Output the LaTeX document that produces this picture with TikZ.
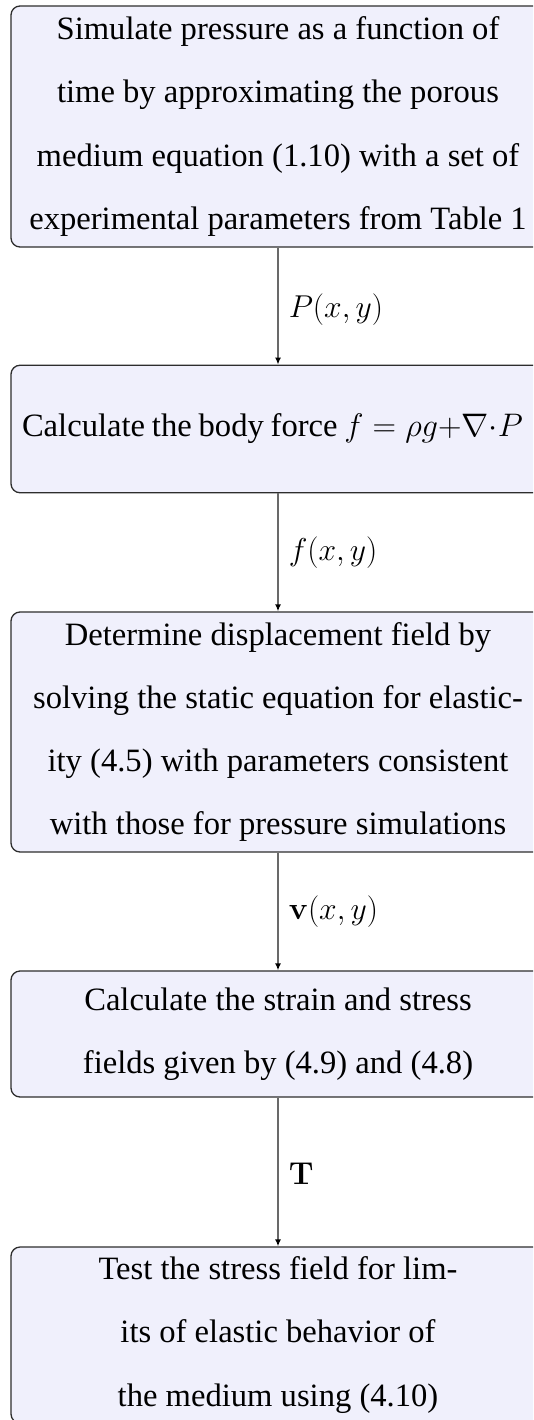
\RequirePackage{fix-cm}
\documentclass[tikz,border=0pt]{standalone}
\usepackage[no-math]{fontspec}
\setmainfont{Liberation Serif}
\usetikzlibrary{arrows.meta}
\definecolor{boxfill}{RGB}{240,240,252}
\definecolor{boxdraw}{RGB}{45,45,45}
\definecolor{arrowgray}{RGB}{105,105,105}
\begin{document}
\begin{tikzpicture}[x=1pt,y=-1pt,
  stepbox/.style={draw=boxdraw, line width=1.3pt, fill=boxfill, rounded corners=9pt,
    minimum width=534pt, inner sep=0pt, align=center,
    font=\fontsize{32.6}{63.2}\selectfont},
  flow/.style={draw=arrowgray, line width=1.5pt, -{Latex[length=7pt,width=6pt,color=black]}},
  flowlabel/.style={midway, anchor=west, inner sep=0pt, xshift=10pt,
    font=\fontsize{31.6}{63.2}\selectfont, text=black}]
\useasboundingbox (0,0) rectangle (533,1420);
\clip (0,0) rectangle (533,1420);
\node[stepbox, minimum height=241pt] (b1) at (278,126.5)
  {Simulate pressure as a function of\\ time by approximating the porous\\ medium equation (1.10) with a set of\\ experimental parameters from Table 1};
\node[stepbox, minimum height=127.5pt] (b2) at (278,429)
  {\makebox[512pt][l]{\spaceskip=0.21em Calculate the body force $f = \rho g{+}\nabla{\cdot}P$}};
\node[stepbox, minimum height=240pt] (b3) at (278,732)
  {Determine displacement field by\\ solving the static equation for elastic-\\ ity (4.5) with parameters consistent\\ with those for pressure simulations};
\node[stepbox, minimum height=126pt] (b4) at (278,1034)
  {Calculate the strain and stress\\ fields given by (4.9) and (4.8)};
\node[stepbox, minimum height=176pt] (b5) at (278,1335)
  {Test the stress field for lim-\\ its of elastic behavior of\\ the medium using (4.10)};
\draw[flow] (b1) -- (b2) node[flowlabel, yshift=-3pt] {$P(x,y)$};
\draw[flow] (b2) -- (b3) node[flowlabel] {$f(x,y)$};
\draw[flow] (b3) -- (b4) node[flowlabel] {$\mathbf{v}(x,y)$};
\draw[flow] (b4) -- (b5) node[flowlabel, yshift=-2pt] {$\mathbf{T}$};
\end{tikzpicture}
\end{document}
